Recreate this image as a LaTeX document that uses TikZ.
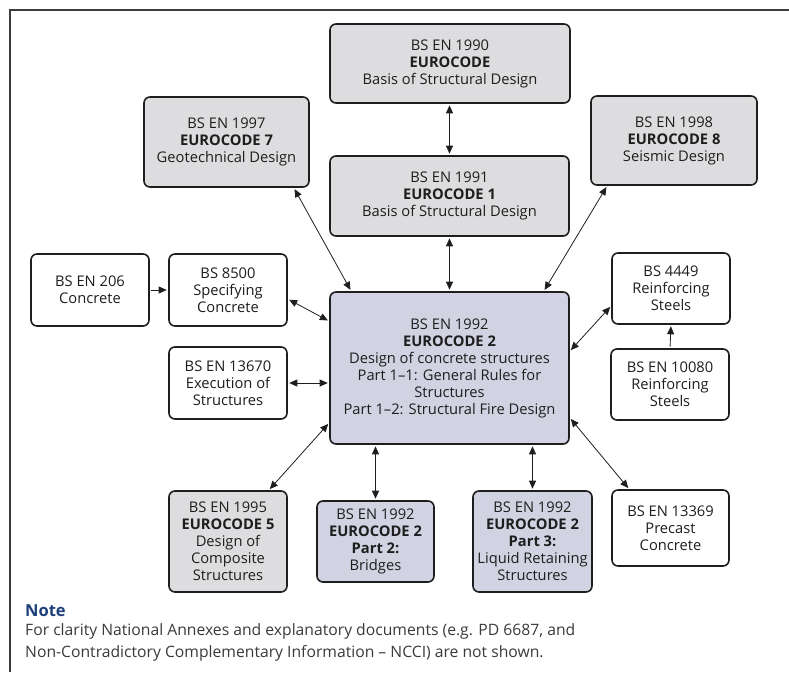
\documentclass[tikz,border=0pt]{standalone}
\usepackage{fontspec}
\setmainfont{Open Sans}
\usetikzlibrary{arrows.meta,calc}

\definecolor{boxline}{HTML}{1E1E1E}
\definecolor{codegray}{HTML}{DDDDDF}
\definecolor{codeblue}{HTML}{D1D3E2}
\definecolor{notehead}{HTML}{1B3F78}
\definecolor{notetext}{HTML}{3A3A3A}
\definecolor{framecol}{HTML}{3C3C3C}

\tikzset{
  docbox/.style={draw=boxline, line width=1.6pt, rounded corners=6pt,
    align=center, text=boxline, inner sep=2pt,
    font=\fontsize{14.7}{17}\selectfont},
  graybox/.style={docbox, fill=codegray},
  bluebox/.style={docbox, fill=codeblue},
  whitebox/.style={docbox, fill=white},
  link/.style={line width=0.8pt, boxline, shorten >=1.5pt, shorten <=1.5pt},
  both/.style={link, {Triangle[length=8pt,width=7pt]}-{Triangle[length=8pt,width=7pt]}},
  one/.style={link, -{Triangle[length=8pt,width=7pt]}}
}

\begin{document}
\begin{tikzpicture}[x=1pt,y=-1pt]
\useasboundingbox (0,0) rectangle (789,672);

% outer frame (left and top edges)
\draw[framecol, line width=1.6pt] (10,672) -- (10,10) -- (789,10);

% Eurocode boxes
\node[graybox, minimum width=240, minimum height=79] (e1990) at (450,63.5)
  {BS EN 1990\\\textbf{EUROCODE}\\Basis of Structural Design};
\node[graybox, minimum width=165, minimum height=90] (e1997) at (226.5,142)
  {BS EN 1997\\\textbf{EUROCODE 7}\\Geotechnical Design};
\node[graybox, minimum width=239, minimum height=80] (e1991) at (449.5,196)
  {BS EN 1991\\\textbf{EUROCODE 1}\\Basis of Structural Design};
\node[graybox, minimum width=166, minimum height=89] (e1998) at (674,140.5)
  {BS EN 1998\\\textbf{EUROCODE 8}\\Seismic Design};

% central Eurocode 2 box
\node[bluebox, minimum width=239, minimum height=152] (e1992) at (449.5,368)
  {BS EN 1992\\\textbf{EUROCODE 2}\\Design of concrete structures\\
   Part 1--1: General Rules for\\Structures\\Part 1--2: Structural Fire Design};

% left-hand standards
\node[whitebox, minimum width=118, minimum height=72] (e206) at (90,290)
  {BS EN 206\\Concrete};
\node[whitebox, minimum width=118, minimum height=72] (b8500) at (228,290)
  {BS 8500\\Specifying\\Concrete};
\node[whitebox, minimum width=118, minimum height=72] (e13670) at (228,383)
  {BS EN 13670\\Execution of\\Structures};

% right-hand standards
\node[whitebox, minimum width=118, minimum height=71] (b4449) at (671,288.5)
  {BS 4449\\Reinforcing\\Steels};
\node[whitebox, minimum width=118, minimum height=71] (e10080) at (670,384.5)
  {BS EN 10080\\Reinforcing\\Steels};

% bottom row
\node[graybox, minimum width=118, minimum height=101] (e1995) at (228,541.5)
  {BS EN 1995\\\textbf{EUROCODE 5}\\Design of\\Composite\\Structures};
\node[bluebox, minimum width=117, minimum height=81] (p2) at (375.5,541.5)
  {BS EN 1992\\\textbf{EUROCODE 2}\\\textbf{Part 2:}\\Bridges};
\node[bluebox, minimum width=119, minimum height=101] (p3) at (532.5,541.5)
  {BS EN 1992\\\textbf{EUROCODE 2}\\\textbf{Part 3:}\\Liquid Retaining\\Structures};
\node[whitebox, minimum width=117, minimum height=76] (e13369) at (670.5,528)
  {BS EN 13369\\Precast\\Concrete};

% connectors
\draw[both] (e1991.north) -- (e1991.north |- e1990.south);
\draw[both] (e1992.north) -- (e1992.north |- e1991.south);
\draw[both] ($(e1992.north west)+(22,0)$) -- ($(e1997.south east)+(-16,0)$);
\draw[both] ($(e1992.north east)+(-26,0)$) -- ($(e1998.south west)+(17,0)$);
\draw[one] (e206.east) -- (b8500.west);
\draw[both] ($(e1992.north west)+(0,30)$) -- ($(b8500.east)+(0,9)$);
\draw[both] (e13670.east) -- (e13670.east -| e1992.west);
\draw[both] ($(e1992.south west)+(0,-22)$) -- ($(e1995.north east)+(-19,0)$);
\draw[both] (p2.north |- e1992.south) -- (p2.north);
\draw[both] (p3.north |- e1992.south) -- (p3.north);
\draw[both] ($(e1992.south east)+(0,-27)$) -- ($(e13369.north west)+(18,0)$);
\draw[both] ($(e1992.north east)+(0,60)$) -- ($(b4449.south west)+(0,-19)$);
\draw[one] (e10080.north) -- (b4449.south);

% note
\node[anchor=west, inner sep=0pt, text=notehead, font=\fontsize{16.5}{18}\selectfont\bfseries]
  (notehead) at (25,611) {Note};
\node[anchor=north west, inner sep=0pt, align=left, text=notetext,
  font=\fontsize{15.7}{22}\selectfont] (notebody) at (25,623)
  {For clarity National Annexes and explanatory documents (e.g. PD 6687, and\\
   Non-Contradictory Complementary Information -- NCCI) are not shown.};
\end{tikzpicture}
\end{document}
